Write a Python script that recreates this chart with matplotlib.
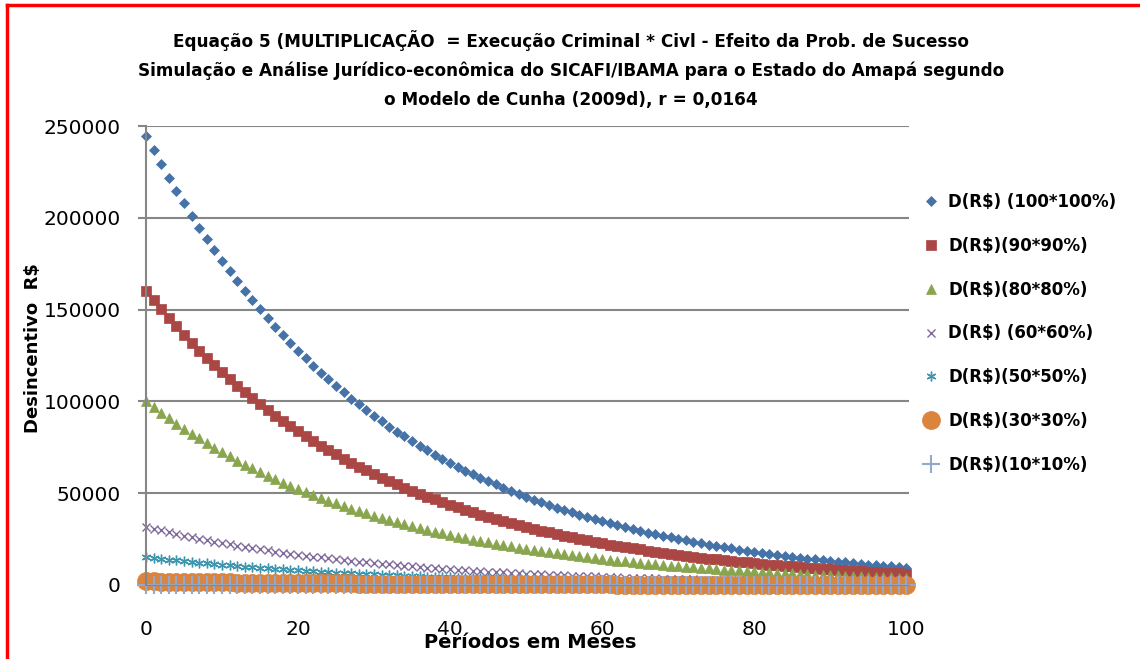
import matplotlib
matplotlib.use("Agg")
import matplotlib.pyplot as plt
from matplotlib.lines import Line2D

months = list(range(101))

d_100 = [244500, 236673, 229097, 221764, 214665, 207794, 201142, 194703, 188471, 182438,
         176598, 170945, 165473, 160176, 155049, 150086, 145281, 140631, 136129, 131772,
         127554, 123471, 119518, 115692, 111989, 108404, 104934, 101575, 98324, 95176,
         92130, 89181, 86326, 83563, 80888, 78298, 75792, 73366, 71017, 68744,
         66544, 64414, 62352, 60356, 58425, 56555, 54745, 52992, 51296, 49653,
         48064, 46527, 45035, 43594, 42200, 40849, 39541, 38275, 37050, 35863,
         34716, 33605, 32528, 31488, 30480, 29504, 28560, 27645, 26761, 25903,
         25075, 24273, 23494, 22743, 22016, 21310, 20628, 19967, 19329, 18709,
         18111, 17532, 16970, 16427, 15902, 15392, 14899, 14422, 13961, 13513,
         13081, 12663, 12257, 11865, 11485, 11117, 10761, 10417, 10084, 9760,
         9448]
d_90 = [160400, 155300, 150300, 145500, 140800, 136300, 132000, 127700, 123700, 119700,
        115900, 112200, 108600, 105100, 101700, 98500, 95300, 92300, 89300, 86500,
        83700, 81000, 78400, 75900, 73500, 71100, 68800, 66600, 64500, 62400,
        60400, 58500, 56600, 54800, 53100, 51400, 49700, 48100, 46600, 45100,
        43700, 42300, 40900, 39600, 38300, 37100, 35900, 34800, 33700, 32600,
        31500, 30500, 29500, 28600, 27700, 26800, 25900, 25100, 24300, 23500,
        22800, 22000, 21300, 20700, 20000, 19400, 18700, 18100, 17600, 17000,
        16500, 15900, 15400, 14900, 14400, 14000, 13500, 13100, 12700, 12300,
        11900, 11500, 11100, 10800, 10400, 10100, 9800, 9500, 9200, 8900,
        8600, 8300, 8000, 7800, 7500, 7300, 7100, 6800, 6600, 6400,
        6200]
d_80 = [100100, 96900, 93800, 90800, 87900, 85100, 82400, 79800, 77200, 74700,
        72300, 70000, 67800, 65600, 63500, 61500, 59500, 57600, 55800, 54000,
        52200, 50600, 49000, 47400, 45900, 44400, 43000, 41600, 40300, 39000,
        37700, 36500, 35400, 34200, 33100, 32100, 31000, 30100, 29100, 28200,
        27300, 26400, 25500, 24700, 23900, 23200, 22400, 21700, 21000, 20300,
        19700, 19100, 18400, 17900, 17300, 16700, 16200, 15700, 15200, 14700,
        14200, 13800, 13300, 12900, 12500, 12100, 11700, 11300, 11000, 10600,
        10300, 9900, 9600, 9300, 9000, 8700, 8400, 8200, 7900, 7700,
        7400, 7200, 7000, 6700, 6500, 6300, 6100, 5900, 5700, 5500,
        5400, 5200, 5000, 4900, 4700, 4600, 4400, 4300, 4100, 4000,
        3900]
d_60 = [31690, 30670, 29690, 28740, 27820, 26930, 26070, 25230, 24430, 23640,
        22890, 22150, 21440, 20760, 20090, 19450, 18830, 18230, 17640, 17080,
        16530, 16000, 15490, 14990, 14510, 14050, 13600, 13160, 12740, 12340,
        11940, 11560, 11190, 10830, 10480, 10150, 9820, 9510, 9200, 8910,
        8620, 8350, 8080, 7820, 7570, 7330, 7100, 6870, 6650, 6440,
        6230, 6030, 5840, 5650, 5470, 5290, 5120, 4960, 4800, 4650,
        4500, 4360, 4220, 4080, 3950, 3820, 3700, 3580, 3470, 3360,
        3250, 3150, 3040, 2950, 2850, 2760, 2670, 2590, 2500, 2420,
        2350, 2270, 2200, 2130, 2060, 2000, 1930, 1870, 1810, 1750,
        1700, 1640, 1590, 1540, 1490, 1440, 1400, 1350, 1310, 1260,
        1220]
d_50 = [15280, 14790, 14320, 13860, 13420, 12990, 12570, 12170, 11780, 11400,
        11040, 10680, 10340, 10010, 9690, 9380, 9080, 8790, 8510, 8240,
        7970, 7720, 7470, 7230, 7000, 6780, 6560, 6350, 6140, 5950,
        5760, 5570, 5400, 5220, 5060, 4890, 4740, 4580, 4440, 4300,
        4160, 4030, 3900, 3770, 3650, 3540, 3420, 3310, 3210, 3100,
        3000, 2910, 2820, 2720, 2640, 2550, 2470, 2390, 2320, 2240,
        2170, 2100, 2030, 1970, 1900, 1840, 1780, 1730, 1670, 1620,
        1570, 1520, 1470, 1420, 1380, 1330, 1290, 1250, 1210, 1170,
        1130, 1100, 1060, 1030, 990, 960, 930, 900, 870, 840,
        820, 790, 770, 740, 720, 700, 670, 650, 630, 610,
        590]
d_30 = [1980, 1917, 1856, 1796, 1739, 1683, 1629, 1577, 1527, 1478,
        1430, 1385, 1340, 1297, 1256, 1216, 1177, 1139, 1103, 1067,
        1033, 1000, 968, 937, 907, 878, 850, 823, 796, 771,
        746, 722, 699, 677, 655, 634, 614, 594, 575, 557,
        539, 522, 505, 489, 473, 458, 443, 429, 415, 402,
        389, 377, 365, 353, 342, 331, 320, 310, 300, 290,
        281, 272, 263, 255, 247, 239, 231, 224, 217, 210,
        203, 197, 190, 184, 178, 173, 167, 162, 157, 152,
        147, 142, 137, 133, 129, 125, 121, 117, 113, 109,
        106, 103, 99, 96, 93, 90, 87, 84, 82, 79,
        77]
d_10 = [24.5, 23.7, 22.9, 22.2, 21.5, 20.8, 20.1, 19.5, 18.8, 18.2,
        17.7, 17.1, 16.5, 16, 15.5, 15, 14.5, 14.1, 13.6, 13.2,
        12.8, 12.3, 12, 11.6, 11.2, 10.8, 10.5, 10.2, 9.8, 9.5,
        9.2, 8.9, 8.6, 8.4, 8.1, 7.8, 7.6, 7.3, 7.1, 6.9,
        6.7, 6.4, 6.2, 6, 5.8, 5.7, 5.5, 5.3, 5.1, 5,
        4.8, 4.7, 4.5, 4.4, 4.2, 4.1, 4, 3.8, 3.7, 3.6,
        3.5, 3.4, 3.3, 3.1, 3, 3, 2.9, 2.8, 2.7, 2.6,
        2.5, 2.4, 2.3, 2.3, 2.2, 2.1, 2.1, 2, 1.9, 1.9,
        1.8, 1.8, 1.7, 1.6, 1.6, 1.5, 1.5, 1.4, 1.4, 1.4,
        1.3, 1.3, 1.2, 1.2, 1.1, 1.1, 1.1, 1, 1, 1,
        0.9]

labels = ["D(R$) (100*100%)", "D(R$)(90*90%)", "D(R$)(80*80%)", "D(R$) (60*60%)",
          "D(R$)(50*50%)", "D(R$)(30*30%)", "D(R$)(10*10%)"]
series = [d_100, d_90, d_80, d_60, d_50, d_30, d_10]
x_ticks = [0, 20, 40, 60, 80, 100]
y_ticks = [0, 50000, 100000, 150000, 200000, 250000]

colors = ["#4572A7", "#AA4643", "#89A54E", "#80699B", "#3D96AE", "#DB843D", "#92A8CD"]
markers = ["D", "s", "^", "x", (6, 2, 0), "o", "+"]
msizes = [5, 7, 6.5, 6, 7, 13, 13]
mews = [0.5, 0.5, 0.5, 1.0, 1.0, 0.5, 1.5]

plt.rcParams['font.family'] = ['DejaVu Sans']
fig = plt.figure(figsize=(11.4, 6.59), dpi=100)
ax = fig.add_axes([0.128, 0.1123, 0.669, 0.6965])

for vals, lab, c, m, ms, mew in zip(series, labels, colors, markers, msizes, mews):
    ax.plot(months, vals, linestyle="none", marker=m, markersize=ms, color=c,
            markeredgewidth=mew, label=lab, clip_on=False)

ax.set_xlim(0, 100.3)
ax.set_ylim(0, 250000)
ax.set_xticks(x_ticks)
ax.set_yticks(y_ticks)
ax.yaxis.grid(True, color="#868686", linewidth=1.5)
ax.set_axisbelow(True)
for s in ("top", "right"):
    ax.spines[s].set_visible(False)
ax.spines["left"].set_color("#868686")
ax.spines["left"].set_linewidth(1.5)
ax.spines["bottom"].set_color("#868686")
ax.tick_params(axis="y", length=6, width=1.5, color="#868686", pad=12, labelsize=14.5)
ax.tick_params(axis="x", length=0, pad=25, labelsize=14.5)

title_kw = dict(ha="center", va="center", fontsize=12.2, fontweight="bold")
fig.text(0.501, 1 - 41 / 659, "Equação 5 (MULTIPLICAÇÃO  = Execução Criminal * Civl - Efeito da Prob. de Sucesso", **title_kw)
fig.text(0.501, 1 - 71 / 659, "Simulação e Análise Jurídico-econômica do SICAFI/IBAMA para o Estado do Amapá segundo", **title_kw)
fig.text(0.501, 1 - 100 / 659, "o Modelo de Cunha (2009d), r = 0,0164", **title_kw)
fig.text(0.029, 1 - 348 / 659, "Desincentivo  R$", rotation=90, ha="center", va="center",
         fontsize=13, fontweight="bold")
fig.text(0.465, 1 - 643 / 659, "Períodos em Meses", ha="center", va="center",
         fontsize=14, fontweight="bold")

ax.legend(loc="upper left", bbox_to_anchor=(0.798, 1 - 178 / 659), bbox_transform=fig.transFigure,
          frameon=False, prop=dict(size=12, weight="bold"), labelspacing=1.55,
          handlelength=0.8, handletextpad=0.6)

# red frame on the left and top, as in the source image
fig.add_artist(Line2D([7 / 1140, 7 / 1140], [0, 1 - 4.5 / 659], color="red", linewidth=2.5))
fig.add_artist(Line2D([7 / 1140, 1], [1 - 4.5 / 659, 1 - 4.5 / 659], color="red", linewidth=2.5))

fig.savefig("out.png", dpi=100)
